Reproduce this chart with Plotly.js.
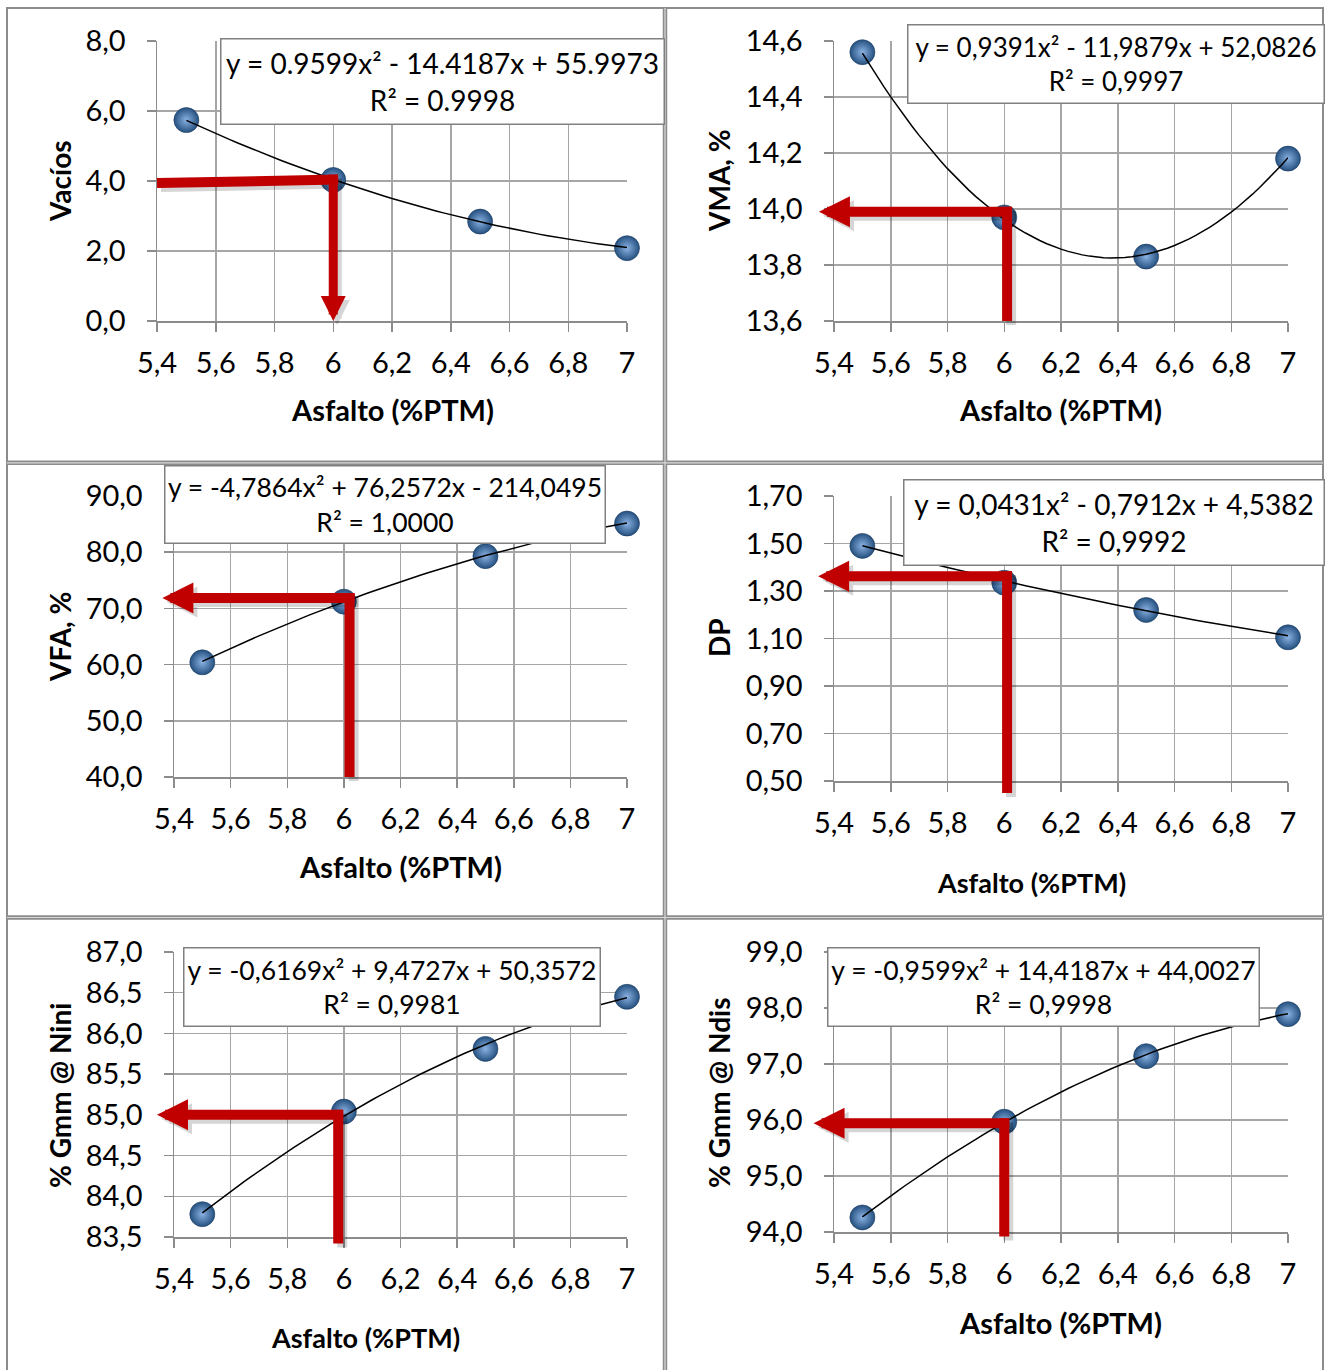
<!DOCTYPE html>
<html>
<head>
<meta charset="utf-8">
<script src="https://cdn.plot.ly/plotly-3.0.1.min.js"></script>
<style>
  html, body { margin: 0; padding: 0; background: #ffffff; }
  #chart { width: 1325px; height: 1370px; }
</style>
</head>
<body>
<div id="chart"></div>
<script>
// ---------------- DATA ----------------
const asfalto  = [5.5, 6.0, 6.5, 7.0];
const vacios   = [5.74, 4.03, 2.84, 2.08];
const vma      = [14.56, 13.97, 13.83, 14.18];
const vfa      = [60.4, 71.2, 79.3, 85.1];
const dp       = [1.49, 1.335, 1.22, 1.105];
const gmmNini  = [83.78, 85.04, 85.81, 86.45];
const gmmNdis  = [94.26, 95.97, 97.14, 97.89];

// printed trendline coefficients  y = a x^2 + b x + c
const coefVacios  = [0.9599, -14.4187, 55.9973];
const coefVma     = [0.9391, -11.9879, 52.0826];
const coefVfa     = [-4.7864, 76.2572, -214.0495];
const coefDp      = [0.0431, -0.7912, 4.5382];
const coefNini    = [-0.6169, 9.4727, 50.3572];
const coefNdis    = [-0.9599, 14.4187, 44.0027];

const eqTexts = [
  'y = 0.9599x² - 14.4187x + 55.9973',
  'y = 0,9391x² - 11,9879x + 52,0826',
  'y = -4,7864x² + 76,2572x - 214,0495',
  'y = 0,0431x² - 0,7912x + 4,5382',
  'y = -0,6169x² + 9,4727x + 50,3572',
  'y = -0,9599x² + 14,4187x + 44,0027'
];
const r2Texts = ['R² = 0.9998', 'R² = 0,9997', 'R² = 1,0000', 'R² = 0,9992', 'R² = 0,9981', 'R² = 0,9998'];
const yTitles = ['Vacíos', 'VMA, %', 'VFA, %', 'DP', '% Gmm @ Nini', '% Gmm @ Ndis'];
const xTitle = 'Asfalto (%PTM)';

// graphical readings (red arrows): asphalt content and property value read
const lecturaAsfalto = [6.0, 6.01, 6.02, 6.01, 5.98, 6.0];
const lecturaValor   = [4.04, 13.99, 71.85, 1.362, 85.0, 95.94];

// ---------------- LAYOUT ----------------
const W = 1325, H = 1370;
const FONT = 'Lato, Carlito, Calibri, sans-serif';
const px = v => v / W;
const py = v => 1 - v / H;

const series = [vacios, vma, vfa, dp, gmmNini, gmmNdis];
const coefs  = [coefVacios, coefVma, coefVfa, coefDp, coefNini, coefNdis];

const panels = [
  { yr: [0, 8],      dy: 2,   fmt: '.1f', dom: [157, 627, 41, 321],
    box: [220, 664, 38, 124], boxFs: 28, xt: [392, 410, 29], yt: [60, 181],
    arrow: { dir: 'down', leftY: 3.94, headSize: 0.5 } },
  { yr: [13.6, 14.6], dy: 0.2, fmt: '.1f', dom: [834, 1288, 41, 321],
    box: [907, 1324, 24, 103], boxFs: 26, xt: [1060, 409, 29], yt: [719, 181],
    arrow: { dir: 'left', tipX: 5.347, bottomY: 13.6, headSize: 0.62 } },
  { yr: [40, 90],    dy: 10,  fmt: '.1f', dom: [174, 627, 496, 777],
    box: [164, 605, 465, 543], boxFs: 26.5, xt: [400, 866, 29], yt: [60, 637],
    arrow: { dir: 'left', tipX: 5.359, bottomY: 40, headSize: 0.62 } },
  { yr: [0.5, 1.7],  dy: 0.2, fmt: '.2f', dom: [834, 1288, 496, 781],
    box: [903, 1324, 479, 565], boxFs: 28, xt: [1031, 882, 27], yt: [719, 638],
    arrow: { dir: 'left', tipX: 5.344, bottomY: 0.45, headSize: 0.62 } },
  { yr: [83.5, 87],  dy: 0.5, fmt: '.1f', dom: [174, 627, 952, 1237],
    box: [183, 600, 947, 1026], boxFs: 26.5, xt: [365, 1337, 27], yt: [60, 1095],
    arrow: { dir: 'left', tipX: 5.34, bottomY: 83.42, headSize: 0.62 } },
  { yr: [94, 99],    dy: 1,   fmt: '.1f', dom: [834, 1288, 952, 1232],
    box: [827, 1259, 947, 1026], boxFs: 26.5, xt: [1060, 1322, 29], yt: [719, 1093],
    arrow: { dir: 'left', tipX: 5.328, bottomY: 93.92, headSize: 0.62 } }
];

const layout = {
  width: W, height: H,
  margin: { l: 0, r: 0, t: 0, b: 0 },
  paper_bgcolor: '#ffffff', plot_bgcolor: '#ffffff',
  showlegend: false,
  separators: ', ',
  font: { family: FONT, color: '#000000' },
  annotations: [],
  shapes: []
};
const traces = [];
const RED = '#C00000';
const SHADOW = 'rgba(0,0,0,0.16)';

panels.forEach((p, i) => {
  const n = i + 1;
  const xk = 'xaxis' + (n > 1 ? n : ''), yk = 'yaxis' + (n > 1 ? n : '');
  const xr = 'x' + (n > 1 ? n : ''), yrf = 'y' + (n > 1 ? n : '');
  const [x0, x1, y0, y1] = p.dom;
  const axCommon = {
    showgrid: true, gridcolor: '#a6a6a6', gridwidth: 1.5,
    showline: true, linecolor: '#8c8c8c', linewidth: 1.5,
    ticks: 'outside', ticklen: 9, tickwidth: 1.5, tickcolor: '#8c8c8c',
    zeroline: false, tickfont: { family: FONT, size: 29, color: '#000000' },
    fixedrange: true
  };
  layout[xk] = Object.assign({}, axCommon, {
    domain: [px(x0), px(x1)], anchor: yrf, range: [5.4, 7],
    tick0: 5.4, dtick: 0.2, ticklabelstandoff: 7
  });
  layout[yk] = Object.assign({}, axCommon, {
    domain: [py(y1), py(y0)], anchor: xr, range: p.yr,
    tick0: p.yr[0], dtick: p.dy, tickformat: p.fmt, ticklabelstandoff: 15
  });

  // data points
  traces.push({
    type: 'scatter', mode: 'markers', x: asfalto, y: series[i], xaxis: xr, yaxis: yrf,
    cliponaxis: false,
    marker: { size: 25, color: '#24507f', gradient: { type: 'radial', color: '#8ab2e3' },
              line: { width: 0.6, color: '#1c3a60' } },
    hoverinfo: 'skip'
  });
  // polynomial trendline from the printed coefficients
  const tx = [], ty = [];
  const c = coefs[i];
  for (let k = 0; k <= 60; k++) {
    const xv = asfalto[0] + (asfalto[asfalto.length - 1] - asfalto[0]) * k / 60;
    tx.push(xv); ty.push(c[0] * xv * xv + c[1] * xv + c[2]);
  }
  traces.push({
    type: 'scatter', mode: 'lines', x: tx, y: ty, xaxis: xr, yaxis: yrf,
    cliponaxis: false,
    line: { color: '#000000', width: 1.5 }, hoverinfo: 'skip'
  });

  // equation box
  const [bx0, bx1, by0, by1] = p.box;
  layout.annotations.push({
    xref: 'paper', yref: 'paper', x: px(bx0), y: py(by0), xanchor: 'left', yanchor: 'top',
    width: bx1 - bx0 - 2, height: by1 - by0 - 2, showarrow: false,
    text: eqTexts[i] + '<br>' + r2Texts[i], align: 'center', valign: 'middle',
    bgcolor: '#ffffff', bordercolor: '#808080', borderwidth: 1.5, borderpad: 0,
    font: { family: FONT, size: p.boxFs, color: '#000000' }
  });
  // axis titles
  layout.annotations.push({
    xref: 'paper', yref: 'paper', x: px(p.xt[0]), y: py(p.xt[1]), xanchor: 'center', yanchor: 'middle',
    showarrow: false, text: xTitle, font: { family: FONT, size: p.xt[2], color: '#000000', weight: 700 }
  });
  layout.annotations.push({
    xref: 'paper', yref: 'paper', x: px(p.yt[0]), y: py(p.yt[1]), xanchor: 'center', yanchor: 'middle',
    showarrow: false, text: yTitles[i], textangle: -90,
    font: { family: FONT, size: 28, color: '#000000', weight: 700 }
  });

  // red reading arrows
  const xPerPx = (7 - 5.4) / (x1 - x0);
  const yPerPx = (p.yr[1] - p.yr[0]) / (y1 - y0);
  const half = 5;
  const ax = lecturaAsfalto[i], av = lecturaValor[i];
  let segs;
  if (p.arrow.dir === 'down') {
    segs = [
      { tx: 5.4, ty: p.arrow.leftY, hx: ax + half * xPerPx, hy: av, head: 0, w: 10 },
      { tx: ax, ty: av + half * yPerPx, hx: ax, hy: p.yr[0], head: 2, w: 9 }
    ];
  } else {
    segs = [
      { tx: ax, ty: p.arrow.bottomY, hx: ax, hy: av + half * yPerPx, head: 0, w: 10 },
      { tx: ax + half * xPerPx, ty: av, hx: p.arrow.tipX, hy: av, head: 2, w: 10 }
    ];
  }
  [[SHADOW, 4, -4], [RED, 0, 0]].forEach(([col, sx, sy]) => {
    segs.forEach(s => {
      layout.annotations.push({
        xref: xr, yref: yrf, axref: xr, ayref: yrf,
        x: s.hx, y: s.hy, ax: s.tx, ay: s.ty, text: '',
        showarrow: true, arrowhead: s.head, arrowsize: p.arrow.headSize * 10 / s.w,
        arrowwidth: s.w, arrowcolor: col, standoff: 0, startstandoff: 0,
        xshift: sx, yshift: sy, borderpad: 0, borderwidth: 0, font: { size: 1 }
      });
    });
  });
});

// table borders (cell frame)
const frame = '#8c8c8c';
layout.shapes.push(
  { type: 'rect', xref: 'paper', yref: 'paper', x0: px(7), x1: px(1323), y0: py(1375), y1: py(8),
    line: { color: frame, width: 2 }, layer: 'above' },
  { type: 'line', xref: 'paper', yref: 'paper', x0: px(665), x1: px(665), y0: py(8), y1: py(1375),
    line: { color: frame, width: 4.5 }, layer: 'above' },
  { type: 'line', xref: 'paper', yref: 'paper', x0: px(7), x1: px(1323), y0: py(462.8), y1: py(462.8),
    line: { color: frame, width: 4.5 }, layer: 'above' },
  { type: 'line', xref: 'paper', yref: 'paper', x0: px(7), x1: px(1323), y0: py(917.5), y1: py(917.5),
    line: { color: frame, width: 4.5 }, layer: 'above' },
  { type: 'line', xref: 'paper', yref: 'paper', x0: px(665), x1: px(665), y0: py(8), y1: py(1375),
    line: { color: '#d9d9d9', width: 1.2 }, layer: 'above' },
  { type: 'line', xref: 'paper', yref: 'paper', x0: px(7), x1: px(1323), y0: py(462.8), y1: py(462.8),
    line: { color: '#d9d9d9', width: 1.2 }, layer: 'above' },
  { type: 'line', xref: 'paper', yref: 'paper', x0: px(7), x1: px(1323), y0: py(917.5), y1: py(917.5),
    line: { color: '#d9d9d9', width: 1.2 }, layer: 'above' }
);

Plotly.newPlot('chart', traces, layout, { displayModeBar: false, staticPlot: true });
</script>
</body>
</html>
